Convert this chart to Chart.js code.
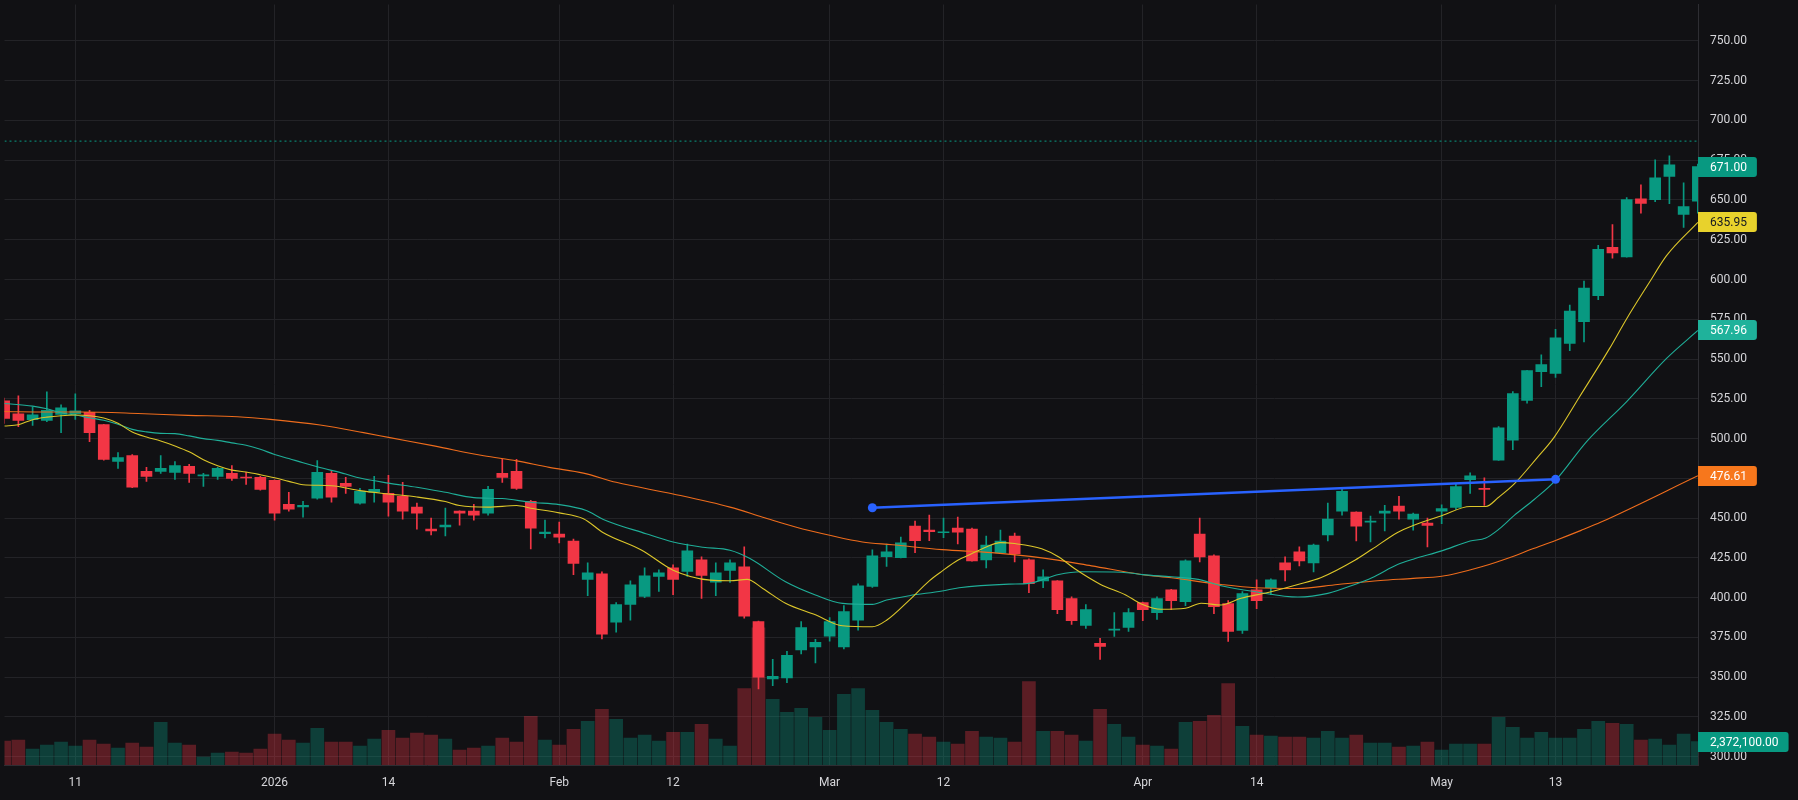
<!DOCTYPE html>
<html><head><meta charset="utf-8">
<script src="https://cdn.jsdelivr.net/npm/chart.js@4.4.1/dist/chart.umd.min.js"></script>
<style>
html,body{margin:0;padding:0;background:#111114;overflow:hidden;}
#wrap{position:relative;width:1798px;height:800px;}
</style></head><body>
<div id="wrap"><canvas id="c" width="1798" height="800"></canvas></div>
<script>
const dates = ['2025-12-04','2025-12-05','2025-12-08','2025-12-09','2025-12-10','2025-12-11','2025-12-12','2025-12-15','2025-12-16','2025-12-17','2025-12-18','2025-12-19','2025-12-22','2025-12-23','2025-12-24','2025-12-26','2025-12-29','2025-12-30','2025-12-31','2026-01-02','2026-01-05','2026-01-06','2026-01-07','2026-01-08','2026-01-09','2026-01-12','2026-01-13','2026-01-14','2026-01-15','2026-01-16','2026-01-20','2026-01-21','2026-01-22','2026-01-23','2026-01-26','2026-01-27','2026-01-28','2026-01-29','2026-01-30','2026-02-02','2026-02-03','2026-02-04','2026-02-05','2026-02-06','2026-02-09','2026-02-10','2026-02-11','2026-02-12','2026-02-13','2026-02-17','2026-02-18','2026-02-19','2026-02-20','2026-02-23','2026-02-24','2026-02-25','2026-02-26','2026-02-27','2026-03-02','2026-03-03','2026-03-04','2026-03-05','2026-03-06','2026-03-09','2026-03-10','2026-03-11','2026-03-12','2026-03-13','2026-03-16','2026-03-17','2026-03-18','2026-03-19','2026-03-20','2026-03-23','2026-03-24','2026-03-25','2026-03-26','2026-03-27','2026-03-30','2026-03-31','2026-04-01','2026-04-02','2026-04-06','2026-04-07','2026-04-08','2026-04-09','2026-04-10','2026-04-13','2026-04-14','2026-04-15','2026-04-16','2026-04-17','2026-04-20','2026-04-21','2026-04-22','2026-04-23','2026-04-24','2026-04-27','2026-04-28','2026-04-29','2026-04-30','2026-05-01','2026-05-04','2026-05-05','2026-05-06','2026-05-07','2026-05-08','2026-05-11','2026-05-12','2026-05-13','2026-05-14','2026-05-15','2026-05-18','2026-05-19','2026-05-20','2026-05-21','2026-05-22','2026-05-26','2026-05-27','2026-05-28'];

const open = [523.75,515.6,511.9,511.5,515.2,515.6,516.5,508.75,485.6,489.4,
479.4,479.4,478.75,482.5,476.6,476.25,478.1,475.6,475.6,473.75,
458.75,457.1,462.5,478.1,471.9,459.4,466.25,465.6,463.75,456.9,
443.1,444.4,454.4,454.4,453.1,478.1,479.4,460.6,440.2,440.0,
435.6,411.5,415.0,384.6,395.8,400.8,413.3,418.75,416.5,423.75,
409.8,417.1,419.4,385.0,348.9,349.6,367.1,369.0,375.8,369.0,
385.8,407.1,425.8,425.2,445.0,442.5,440.8,443.75,443.1,423.75,
428.1,438.75,423.75,410.6,410.6,399.4,382.5,371.25,379.6,381.25,
396.9,390.6,405.0,397.5,440.0,426.25,396.25,379.4,405.0,406.25,
421.9,428.75,421.9,439.4,454.4,453.75,447.5,453.1,457.5,449.4,
446.9,454.3,456.8,474.2,468.6,486.5,499.0,524.0,542.1,541.0,
559.8,573.5,589.8,620.2,614.2,650.8,650.2,664.8,641.0,649.2];

const high = [525.5,526.9,519.8,529.4,521.25,528.1,517.7,509.0,491.25,490.0,
481.9,489.4,485.6,483.75,478.1,481.9,483.1,478.75,476.25,474.0,
466.25,460.6,486.25,480.0,475.6,468.75,476.25,476.9,472.5,459.4,
450.0,456.25,454.6,458.75,470.0,486.9,486.9,461.25,448.75,447.5,
436.9,421.9,416.25,396.9,410.6,418.75,417.5,420.6,433.75,425.6,
421.9,423.75,431.9,385.2,361.25,366.25,385.0,373.75,387.5,395.0,
408.75,430.0,433.75,438.1,448.1,451.9,450.0,450.6,443.75,438.75,
442.5,440.6,424.4,417.5,410.8,400.6,395.6,374.4,390.6,393.1,
397.2,400.6,405.2,423.75,450.0,426.9,398.1,403.75,411.25,411.9,
425.6,431.9,433.75,459.4,468.1,454.0,451.25,458.1,463.75,453.1,
450.0,458.4,471.2,478.5,475.4,507.5,529.6,542.9,552.7,568.75,
584.0,599.0,621.5,634.6,651.5,659.6,675.2,677.7,660.8,672.5];

const low = [509.6,507.5,508.3,510.6,503.75,512.1,498.1,486.5,481.25,469.2,
473.1,478.1,474.4,472.5,470.0,474.4,473.75,471.25,467.5,448.75,
454.4,450.6,461.9,460.0,465.6,458.75,460.0,451.25,449.4,443.1,
439.4,438.75,445.6,448.75,451.9,472.5,468.1,430.6,437.5,434.4,
414.4,401.25,374.0,378.3,385.8,400.0,404.0,401.9,413.3,399.6,
401.25,409.6,387.1,342.7,344.6,346.5,364.6,359.0,372.7,367.7,
379.6,406.5,419.6,425.0,428.3,435.8,437.7,433.75,423.0,418.75,
428.0,422.5,403.1,406.25,390.0,383.1,380.6,361.25,375.6,378.75,
385.6,386.25,392.5,395.0,422.5,390.0,372.5,377.5,393.1,401.9,
410.6,420.0,416.25,435.6,451.9,435.6,435.0,441.9,449.4,442.5,
431.9,446.5,455.5,465.5,458.0,486.3,493.1,522.3,532.7,538.5,
555.2,560.8,587.3,613.5,614.0,641.7,649.0,647.7,632.7,641.7];

const close = [512.7,511.5,515.0,517.7,519.4,517.5,503.75,486.9,488.1,469.4,
476.25,481.25,483.1,478.1,476.9,481.25,475.0,475.2,468.1,453.1,
455.6,458.1,478.75,463.1,470.0,466.9,468.1,460.0,454.4,453.1,
441.9,445.6,453.1,451.9,468.1,475.6,468.75,443.75,441.25,438.1,
421.5,415.6,377.1,395.6,408.1,413.75,415.6,411.5,429.4,414.0,
415.6,421.9,388.3,350.0,350.6,363.75,381.25,371.9,385.0,391.25,
407.5,426.25,428.75,434.4,435.8,441.5,441.25,441.25,423.1,433.1,
435.6,427.5,408.75,413.1,392.5,385.6,392.5,369.4,380.2,390.6,
392.5,399.4,398.1,423.1,425.6,394.4,378.75,402.5,398.1,411.25,
417.5,423.1,433.1,449.4,466.9,445.0,448.1,454.4,454.4,452.5,
445.4,456.0,469.8,476.6,468.1,506.7,528.3,542.7,546.5,563.3,
580.2,594.6,619.0,616.7,650.2,647.9,664.0,672.1,645.8,671.0];

const volume = [2424000,2525000,1616000,2020000,2323000,1919000,2525000,2121000,1717000,2222000,
1818000,4343000,2222000,2020000,808000,1212000,1313000,1212000,1616000,3131000,
2525000,2222000,3737000,2323000,2323000,1919000,2626000,3535000,2727000,3232000,
3030000,2626000,1515000,1717000,1919000,2727000,2323000,4949000,2525000,2020000,
3636000,4444000,5656000,4646000,2727000,3030000,2424000,3333000,3333000,4141000,
2626000,1919000,7777000,13938000,6666000,5353000,5757000,4848000,3535000,7171000,
7777000,5555000,4343000,3636000,3131000,2828000,2323000,2121000,3434000,2828000,
2727000,2323000,8484000,3434000,3434000,3030000,2424000,5656000,4141000,2828000,
2020000,1919000,1616000,4343000,4444000,5050000,8282000,3939000,3030000,2929000,
2828000,2828000,2727000,3434000,2727000,3030000,2222000,2222000,1818000,1919000,
2323000,1515000,2121000,2121000,2121000,4848000,3838000,2727000,3333000,2727000,
2727000,3636000,4444000,4242000,4141000,2525000,2626000,2020000,3131000,2372100];

// moving averages: [bar position, value]
const maFast = [[0,507.9],[1,508.75],[2,511.9],[3,513.5],[4,514.4],[5,514.8],[6,514.4],[7,512.9],[8,509.6],[9,504.2],[10,501],[11,498.5],[12,495.4],[13,491.7],[14,486.7],[15,482.9],[16,480.2],[17,479],[18,477.3],[19,475.4],[20,473.1],[21,471],[23,470.4],[25,467.3],[27,465.2],[29,463.3],[31,460.4],[32,457.9],[34,456.9],[36,457.9],[37,456.25],[39,453.3],[40.7,449.6],[42.1,440.8],[44.8,429.8],[47,417.3],[49.6,411],[51,410.6],[52.2,411.5],[53.3,405.8],[54.9,396.5],[57,389.2],[58.9,382.3],[61,381.7],[62,385.8],[63.6,398.5],[65,410.6],[65.9,416.7],[67,423.5],[68,427.7],[69,431.9],[70,434.6],[71,434],[72.9,430.8],[74.1,425.6],[75.2,418.3],[77,408.5],[78.8,401.7],[79.9,396],[81.3,392.7],[83,393.3],[84.1,396.5],[85.5,395.4],[86.9,399.6],[88.8,403.3],[90.9,408.3],[92.5,412.5],[94.9,423.5],[96.1,430.4],[97.9,441],[99,445.4],[101,451.5],[103,457.3],[104.1,457.3],[105,463.1],[106.1,471.5],[107.7,487.9],[108.9,500.8],[110.7,526.5],[112.8,556.7],[114,575.4],[115.6,598.3],[116.8,615],[119,635.95]];
const maMid = [[0,522.1],[2,520.4],[3,518.75],[4,516.25],[5,514.8],[6,513.1],[7,511.5],[8,509],[9,505.8],[10,504.2],[11,503.3],[12,503.1],[13,501.7],[14,500],[15,498.9],[16,497.3],[17,495.8],[18,493.3],[19,490],[20,487.5],[21,484.8],[22,482.3],[24,477.7],[25,475.2],[27,472],[29,469.4],[31,466.25],[33,462.9],[35,462.3],[37,460],[39,458.5],[40.9,454.8],[42.1,449.2],[45.1,440.2],[47,435],[49.1,431.7],[51,429.8],[52.4,424.6],[54.9,410],[57,401.7],[58.9,396.4],[61,395.8],[62,398.5],[63.6,401.25],[65.9,404.2],[67.1,406.25],[70.6,408.5],[72,409],[74.1,414.6],[75.7,416.25],[78.5,416],[80,414.5],[82,413.1],[83.9,411.5],[85.5,407.5],[87.9,403.75],[90.9,400.4],[93,402.7],[94.9,408.3],[96.1,412.5],[97.9,420.8],[99,424.2],[101,429.4],[103,435.6],[104.1,437.5],[105,442.9],[106.1,451.7],[107.5,461.7],[109,473.75],[111.2,498.3],[114,523.3],[116.8,550.4],[119,567.96]];
const maSlow = [[0,517],[3,516.7],[5.4,516.7],[9.4,515.8],[12.9,514.6],[16.4,513.75],[18.7,512.1],[22.2,508.5],[25.25,503.75],[27.1,500.6],[30.2,495.4],[33.7,489.2],[36,486],[38.3,481.9],[40.7,478.3],[43,472.5],[47,465.2],[51,456.9],[53.3,450.6],[55.6,444.4],[58,439.2],[60.3,435],[62.4,433.3],[65.9,430.2],[69.4,428.3],[72.9,425],[76.4,420],[79.9,414.6],[82,412.5],[85.5,408.3],[87.9,406.25],[90.9,405.8],[93.7,408.3],[96.7,410.8],[99,412.1],[101,413.5],[102,415.2],[103.8,419.4],[105.9,425.6],[107.3,430.4],[109,436],[110.8,442.3],[112.2,447.5],[119,476.61]];

const trendLine = [[61,456.5],[109,474.4]];
const highLevel = 687;

const priceTicks = [300,325,350,375,400,425,450,475,500,525,550,575,600,625,650,675,700,725,750];
const tickDates = ['2025-12-11','2026-01-02','2026-01-14','2026-02-02','2026-02-12','2026-03-02','2026-03-12','2026-04-01','2026-04-14','2026-05-01','2026-05-13'];
const tickText = ['11','2026','14','Feb','12','Mar','12','Apr','14','May','13'];

const X_MIN = 0.025, X_MAX = 119.01;
const Y_MIN = 294.8, Y_MAX = 772.9;
const VOL_MAX = 77300000;

const UP = '#089981', DOWN = '#f23645';
const UP_V = 'rgba(8,153,129,0.34)', DOWN_V = 'rgba(242,54,69,0.33)';
const FAST_C = '#dcc62a', MID_C = '#1fae98', SLOW_C = '#ee6c1c';
const GRID = '#232327', BORDER = '#2e2e33', TXT = '#d6d6da', BG = '#111114';

const isUp = close.map((c,i)=> c >= open[i]);
const pts = arr => arr.map(p=>({x:p[0], y:p[1]}));

const bgPlugin = {
  id:'bg',
  beforeDraw(chart){
    const c = chart.ctx; c.save(); c.fillStyle = BG; c.fillRect(0,0,chart.width,chart.height); c.restore();
  }
};

function rr(ctx,x,y,w,h,r){
  ctx.beginPath();
  ctx.moveTo(x,y); ctx.lineTo(x+w-r,y); ctx.quadraticCurveTo(x+w,y,x+w,y+r);
  ctx.lineTo(x+w,y+h-r); ctx.quadraticCurveTo(x+w,y+h,x+w-r,y+h);
  ctx.lineTo(x,y+h); ctx.closePath();
}

const labelPlugin = {
  id:'axisLabels',
  afterDraw(chart){
    const {ctx, chartArea, scales} = chart;
    const last = close.length-1;
    const items = [
      {s:'y', v:close[last], t:close[last].toFixed(2), bg:UP, fg:'#ffffff'},
      {s:'y', v:maFast[maFast.length-1][1], t:maFast[maFast.length-1][1].toFixed(2), bg:'#e8d22c', fg:'#131722'},
      {s:'y', v:maMid[maMid.length-1][1], t:maMid[maMid.length-1][1].toFixed(2), bg:'#1fb29b', fg:'#ffffff'},
      {s:'y', v:maSlow[maSlow.length-1][1], t:maSlow[maSlow.length-1][1].toFixed(2), bg:'#f7771c', fg:'#ffffff'},
      {s:'yVol', v:volume[last], t:volume[last].toLocaleString('en-US',{minimumFractionDigits:2,maximumFractionDigits:2}), bg:UP, fg:'#ffffff'}
    ];
    ctx.save();
    ctx.font = '12px Roboto';
    ctx.textBaseline = 'middle';
    ctx.textAlign = 'left';
    items.forEach(it=>{
      const y = Math.round(scales[it.s].getPixelForValue(it.v));
      const x0 = chartArea.right;
      const w = ctx.measureText(it.t).width + 22;
      ctx.fillStyle = it.bg;
      rr(ctx, x0, y-10, w, 20, 3);
      ctx.fill();
      ctx.fillStyle = it.fg;
      ctx.fillText(it.t, x0+12, y+1);
    });
    ctx.restore();
  }
};

Chart.defaults.font.family = 'Roboto';
Chart.defaults.font.size = 12;

new Chart(document.getElementById('c'), {
  type:'bar',
  data:{
    datasets:[
      {type:'line', label:'trend', data:pts(trendLine), borderColor:'#2962ff', borderWidth:2.5, pointRadius:4.5, pointBackgroundColor:'#2962ff', pointBorderWidth:0, order:1},
      {type:'line', label:'high', data:[{x:X_MIN,y:highLevel},{x:X_MAX,y:highLevel}], borderColor:'#089981', borderWidth:1, borderDash:[2,3], pointRadius:0, order:2},
      {type:'line', label:'fast', data:pts(maFast), borderColor:FAST_C, borderWidth:1.1, pointRadius:0, cubicInterpolationMode:'monotone', order:3},
      {type:'line', label:'mid', data:pts(maMid), borderColor:MID_C, borderWidth:1.1, pointRadius:0, cubicInterpolationMode:'monotone', order:3},
      {type:'line', label:'slow', data:pts(maSlow), borderColor:SLOW_C, borderWidth:1.1, pointRadius:0, cubicInterpolationMode:'monotone', order:3},
      {type:'bar', label:'body', data:open.map((o,i)=>({x:i, y:[o, close[i]]})), backgroundColor:isUp.map(u=>u?UP:DOWN), barThickness:11, minBarLength:1, grouped:false, order:4},
      {type:'bar', label:'wick', data:low.map((l,i)=>({x:i, y:[l, high[i]]})), backgroundColor:isUp.map(u=>u?UP:DOWN), barThickness:1, grouped:false, order:5},
      {type:'bar', label:'volume', data:volume.map((v,i)=>({x:i, y:v})), yAxisID:'yVol', backgroundColor:isUp.map(u=>u?UP_V:DOWN_V), barThickness:13, grouped:false, order:10}
    ]
  },
  options:{
    responsive:false,
    devicePixelRatio:1,
    animation:false,
    layout:{padding:0},
    plugins:{legend:{display:false}, tooltip:{enabled:false}},
    scales:{
      x:{
        type:'linear', min:X_MIN, max:X_MAX, offset:false, position:'bottom',
        grid:{color:GRID, drawTicks:false, offset:false},
        border:{display:true, color:BORDER},
        afterBuildTicks:s=>{ s.ticks = tickDates.map(d=>({value:dates.indexOf(d)})); },
        afterFit:s=>{ s.height = 35; s.paddingLeft = 0; s.paddingRight = 0; },
        ticks:{color:TXT, padding:11, autoSkip:false, maxRotation:0, font:{size:12}, callback:(v,i)=>tickText[i]}
      },
      y:{
        type:'linear', position:'right', min:Y_MIN, max:Y_MAX,
        grid:{color:GRID, drawTicks:false},
        border:{display:true, color:BORDER},
        afterBuildTicks:s=>{ s.ticks = priceTicks.map(v=>({value:v})); },
        afterFit:s=>{ s.width = 100; s.paddingTop = 0; s.paddingBottom = 0; },
        ticks:{color:TXT, padding:12, crossAlign:'near', autoSkip:false, font:{size:12}, callback:v=>Number(v).toFixed(2)}
      },
      yVol:{
        type:'linear', display:false, min:0, max:VOL_MAX, position:'right'
      }
    }
  },
  plugins:[bgPlugin, labelPlugin]
});
</script>
</body></html>
